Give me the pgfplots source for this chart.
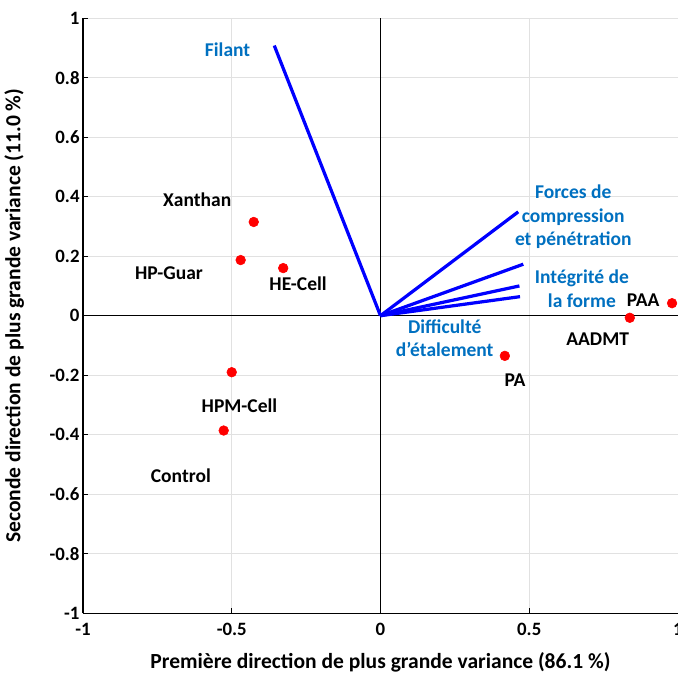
\documentclass[border=0pt]{standalone}
\usepackage{pgfplots}
\pgfplotsset{compat=1.18}
\usepackage{fontspec}
\setmainfont{Carlito}
\definecolor{lblblue}{RGB}{0,112,192}
\definecolor{gridgray}{RGB}{225,225,225}

\begin{document}
\begin{tikzpicture}[trim axis right,
  lbl/.style={font=\bfseries\fontsize{14.5}{17.5}\selectfont},
  vlbl/.style={lbl, text=lblblue, align=center, inner sep=0pt}]
\begin{axis}[
    scale only axis,
    width=442pt, height=442pt,
    xmin=-1, xmax=1, ymin=-1, ymax=1,
    axis x line=bottom, axis y line=left,
    axis line style={-, black, line width=0.8pt},
    xtick={-1,-0.5,0,0.5,1},
    ytick={-1,-0.8,-0.6,-0.4,-0.2,0,0.2,0.4,0.6,0.8,1},
    xticklabels={-1,-0.5,0,0.5,1},
    yticklabels={-1,-0.8,-0.6,-0.4,-0.2,0,0.2,0.4,0.6,0.8,1},
    tick align=inside, major tick length=4pt,
    tick style={black, line width=0.6pt},
    grid=major, major grid style={gridgray, line width=0.6pt},
    ticklabel style={font=\bfseries\fontsize{14}{16}\selectfont},
    xticklabel style={yshift=-4pt},
    yticklabel style={xshift=1pt},
    every axis x label/.style={at={(rel axis cs:0.5,0)}, yshift=-36.5pt, anchor=center},
    every axis y label/.style={at={(rel axis cs:0,0.5)}, xshift=-51pt, rotate=90, anchor=center},
    xlabel={\bfseries Première direction de plus grande variance (86.1~\%)},
    ylabel={\bfseries Seconde direction de plus grande variance (11.0~\%)},
    label style={font=\bfseries\fontsize{16}{18}\selectfont},
    clip=false,
]
% zero lines
\addplot[black, line width=0.6pt] coordinates {(-1,0) (1,0)};
\addplot[black, line width=0.6pt] coordinates {(0,-1) (0,1)};

% loadings
\addplot[blue, line width=2.4pt] coordinates {(0,0) (-0.357,0.908)};
\addplot[blue, line width=2.4pt] coordinates {(0,0) (0.463,0.349)};
\addplot[blue, line width=2.4pt] coordinates {(0,0) (0.480,0.173)};
\addplot[blue, line width=2.4pt] coordinates {(0,0) (0.467,0.100)};
\addplot[blue, line width=2.4pt] coordinates {(0,0) (0.469,0.064)};

% scores
\addplot[only marks, mark=*, mark size=3.6pt, red, mark options={draw=red, fill=red}]
  coordinates {
    (-0.426,0.315) (-0.470,0.187) (-0.327,0.160) (-0.500,-0.190)
    (-0.527,-0.386) (0.418,-0.135) (0.838,-0.007) (0.980,0.042)
  };

% variable labels
\node[vlbl] at (axis cs:-0.514,0.895) {Filant};
\node[vlbl] at (axis cs:0.648,0.332) {Forces de\\ compression\\ et pénétration};
\node[vlbl] at (axis cs:0.677,0.090) {Intégrité de\\ la forme};
\node[vlbl] at (axis cs:0.216,-0.076) {Difficulté\\ d’étalement};

% sample labels
\node[lbl] at (axis cs:-0.616,0.390) {Xanthan};
\node[lbl] at (axis cs:-0.711,0.142) {HP-Guar};
\node[lbl] at (axis cs:-0.277,0.108) {HE-Cell};
\node[lbl] at (axis cs:-0.474,-0.302) {HPM-Cell};
\node[lbl] at (axis cs:-0.671,-0.539) {Control};
\node[lbl] at (axis cs:0.452,-0.217) {PA};
\node[lbl] at (axis cs:0.730,-0.080) {AADMT};
\node[lbl] at (axis cs:0.883,0.051) {PAA};

% outer margins
\path (rel axis cs:0,1) -- ++(0pt,13.5pt);
\path (rel axis cs:0,0) -- ++(0pt,-47pt);
\path (rel axis cs:1,0) -- ++(1.5pt,0pt);
\end{axis}
\end{tikzpicture}
\end{document}
